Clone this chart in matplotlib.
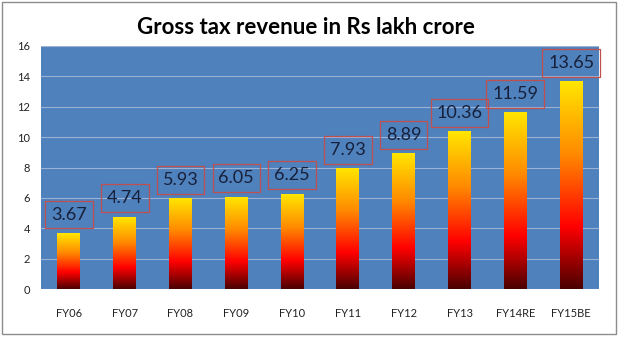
import numpy as np
import matplotlib
matplotlib.use("Agg")
import matplotlib.pyplot as plt
from matplotlib.colors import LinearSegmentedColormap
from matplotlib.patches import Rectangle

# Данні
years = ['FY06', 'FY07', 'FY08', 'FY09', 'FY10', 'FY11', 'FY12', 'FY13', 'FY14RE', 'FY15BE']
revenue = [3.67, 4.74, 5.93, 6.05, 6.25, 7.93, 8.89, 10.36, 11.59, 13.65]

plt.rcParams['font.family'] = ['Lato', 'DejaVu Sans']

fire = LinearSegmentedColormap.from_list(
    'fire', [(0.0, '#4a0000'), (0.3, '#ff0000'), (0.65, '#ff8a00'), (1.0, '#ffe600')])

fig = plt.figure(figsize=(6.4, 3.6), dpi=100)
fig.patch.set_facecolor('white')
# рамка навколо діаграми
fig.add_artist(Rectangle((2 / 640, 1 - 334 / 360), 614 / 640, 332 / 360,
                         transform=fig.transFigure, fill=False, edgecolor='#8c8c8c', lw=1))

ax = fig.add_axes([41 / 640, 1 - 289 / 360, 558 / 640, 243 / 360])
ax.set_facecolor('#4f81bd')
ax.set_yticks(range(0, 17, 2))
ax.set_xticks(range(len(years)))
ax.set_xticklabels(years)
ax.tick_params(length=0, labelsize=8, colors='#222222')
ax.tick_params(axis='x', pad=14)
ax.tick_params(axis='y', pad=8)
ax.grid(axis='y', color='#9db1d3', lw=0.8)
ax.set_axisbelow(True)
for s in ax.spines.values():
    s.set_visible(False)

w = 0.41
grad = np.linspace(0, 1, 256).reshape(-1, 1)
for i, v in enumerate(revenue):
    ax.imshow(grad, cmap=fire, origin='lower', aspect='auto',
              extent=[i - w / 2, i + w / 2, 0, v], zorder=2)
    ax.annotate(f'{v:.2f}', (i, v), xytext=(0, 13.5), textcoords='offset points',
                ha='center', va='center', fontsize=13, color='#17203a', zorder=3,
                bbox=dict(boxstyle='square,pad=0.33', fc='none', ec='#c0504d', lw=0.9))
ax.set_xlim(-0.5, len(years) - 0.5)
ax.set_ylim(0, 16)

fig.text(306 / 640, 1 - 28 / 360, 'Gross tax revenue in Rs lakh crore',
         ha='center', va='center', fontsize=16, fontweight='bold', color='black')

fig.savefig('out.png', dpi=100)
